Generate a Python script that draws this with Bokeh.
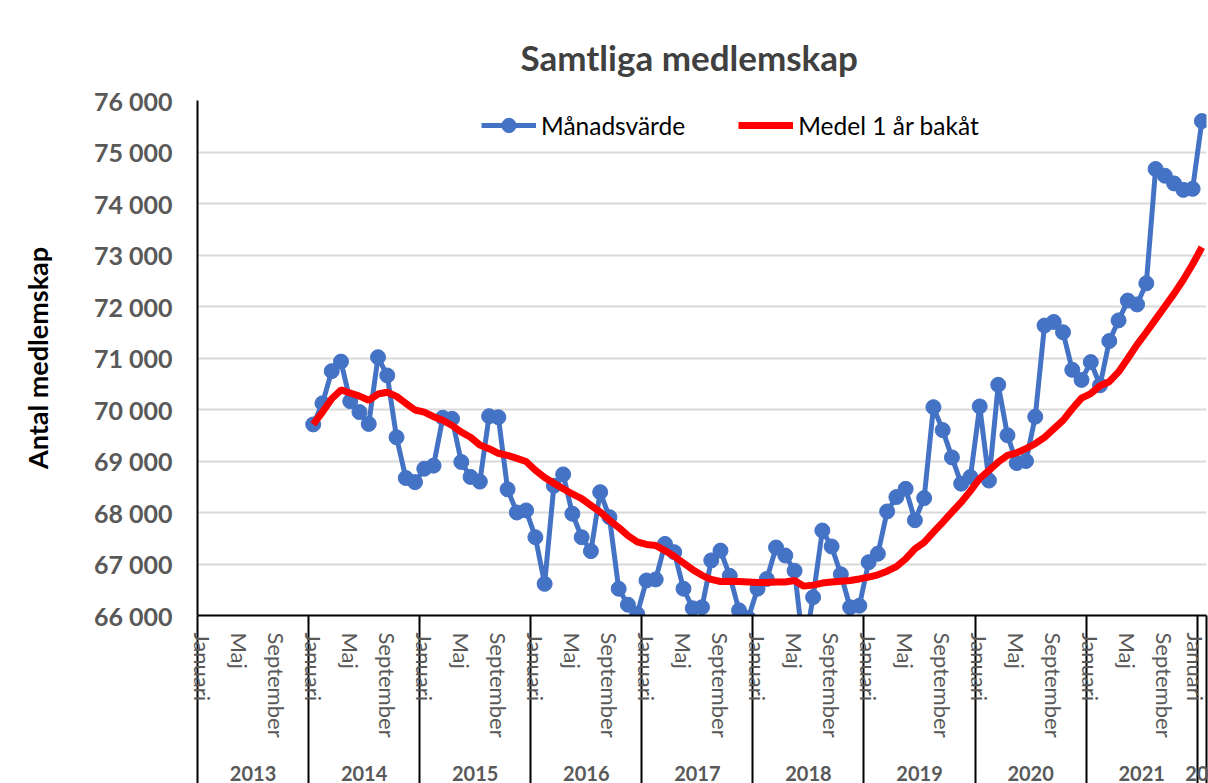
from bokeh.plotting import figure
from bokeh.models import (Range1d, FixedTicker, LinearAxis, Legend, LegendItem,
                          Title, ColumnDataSource)
from bokeh.embed import file_html
from bokeh.resources import INLINE

# ---------------- data ----------------
month_names = ["Januari", "Februari", "Mars", "April", "Maj", "Juni", "Juli",
               "Augusti", "September", "Oktober", "November", "December"]
years = ["2013", "2014", "2015", "2016", "2017", "2018", "2019", "2020", "2021", "2022"]
# year texts as they appear under the axis (the last one is cut at the chart edge)
year_labels = ["2013", "2014", "2015", "2016", "2017", "2018", "2019", "2020", "2021", "20"]
# category axis: Januari 2013 .. Januari 2022
categories = [(y, m) for y in years[:-1] for m in month_names] + [("2022", "Januari")]
data_start = ("2014", "Januari")

monthly = [
    # 2014
    69710, 70120, 70745, 70930, 70160, 69950, 69720, 71015, 70660, 69460, 68670, 68590,
    # 2015
    68850, 68910, 69840, 69820, 68980, 68690, 68600, 69870, 69850, 68450, 68000, 68040,
    # 2016
    67520, 66615, 68520, 68740, 67975, 67520, 67250, 68395, 67910, 66520, 66210, 66030,
    # 2017
    66680, 66700, 67390, 67230, 66520, 66140, 66160, 67070, 67260, 66770, 66100, 65950,
    # 2018
    66520, 66710, 67320, 67165, 66870, 65300, 66355, 67650, 67340, 66800, 66160, 66190,
    # 2019
    67035, 67200, 68020, 68300, 68460, 67850, 68280, 70045, 69600, 69070, 68560, 68690,
    # 2020
    70060, 68620, 70480, 69500, 68960, 69000, 69860, 71630, 71700, 71500, 70770, 70575,
    # 2021
    70920, 70470, 71330, 71730, 72115, 72040, 72450, 74670, 74540, 74390, 74265, 74285,
    # 2022
    75600,
]

moving_avg = [
    # 2014
    69710, 69950, 70210, 70380, 70320, 70260, 70180, 70300, 70335, 70255, 70120, 69990,
    # 2015
    69950, 69860, 69790, 69690, 69560, 69460, 69310, 69240, 69150, 69110, 69050, 68990,
    # 2016
    68820, 68680, 68570, 68460, 68360, 68270, 68140, 68010, 67850, 67710, 67550, 67430,
    # 2017
    67380, 67360, 67260, 67150, 67020, 66890, 66780, 66700, 66660, 66665, 66660, 66650,
    # 2018
    66640, 66640, 66650, 66650, 66680, 66570, 66590, 66630, 66650, 66665, 66680, 66710,
    # 2019
    66745, 66790, 66860, 66950, 67100, 67295, 67420, 67620, 67810, 68005, 68200, 68420,
    # 2020
    68660, 68820, 68980, 69110, 69160, 69240, 69335, 69460, 69625, 69790, 70015, 70220,
    # 2021
    70310, 70460, 70540, 70730, 70990, 71260, 71500, 71750, 72000, 72250, 72520, 72820,
    # 2022
    73150,
]

y_ticks = [66000, 67000, 68000, 69000, 70000, 71000, 72000, 73000, 74000, 75000, 76000]
y_tick_labels = ["66 000", "67 000", "68 000", "69 000", "70 000", "71 000",
                 "72 000", "73 000", "74 000", "75 000", "76 000"]
shown_months = ["Januari", "Maj", "September"]

# ---------------- derived positions ----------------
start = categories.index(data_start)
xs = [start + i + 0.5 for i in range(len(monthly))]
src = ColumnDataSource(dict(x=xs, monthly=monthly, avg=moving_avg))

month_ticks, month_over = [], {}
for i, (yy, mm) in enumerate(categories):
    if mm in shown_months:
        month_ticks.append(i + 0.5)
        month_over[i + 0.5] = mm

year_ticks, year_over, bounds = [], {}, []
for yy, lab in zip(years, year_labels):
    idx = [i for i, c in enumerate(categories) if c[0] == yy]
    c = (idx[0] + idx[-1] + 1) / 2
    year_ticks.append(c)
    year_over[c] = lab
    bounds.append(idx[0])
bounds.append(len(categories))

FONT = "Lato"
GRAY = "#595959"
BLUE = "#4472C4"
SEP_LEN = 168
YEAR_BOX = 18       # measured height of a year label box
YEAR_STANDOFF = -YEAR_BOX
MONTH_TOP = 17      # gap between axis line and month labels

p = figure(width=1208, height=783, output_backend="svg", toolbar_location=None,
           x_range=Range1d(0, len(categories)), y_range=Range1d(y_ticks[0], y_ticks[-1]),
           x_axis_location=None,
           min_border_left=197, min_border_right=2, min_border_top=100,
           min_border_bottom=SEP_LEN)
p.outline_line_color = None
p.background_fill_color = "white"
p.border_fill_color = "white"

p.title = Title(text="Samtliga medlemskap", align="left", offset=323, text_font=FONT,
                text_font_size="35px", text_font_style="bold", text_color="#404040",
                standoff=46)

# y axis
ya = p.yaxis[0]
ya.ticker = FixedTicker(ticks=y_ticks)
ya.major_label_overrides = dict(zip(y_ticks, y_tick_labels))
ya.major_label_text_font = FONT
ya.major_label_text_font_size = "25px"
ya.major_label_text_font_style = "bold"
ya.major_label_text_color = GRAY
ya.major_label_standoff = 19
ya.major_tick_line_color = None
ya.minor_tick_line_color = None
ya.axis_line_color = "black"
ya.axis_line_width = 2
ya.axis_label = "Antal medlemskap"
ya.axis_label_text_font = FONT
ya.axis_label_text_font_size = "27px"
ya.axis_label_text_font_style = "bold"
ya.axis_label_text_color = "black"
ya.axis_label_standoff = 37

p.ygrid.ticker = FixedTicker(ticks=y_ticks)
p.ygrid.grid_line_color = "#d9d9d9"
p.ygrid.grid_line_width = 2
p.xgrid.visible = False

# year axis first: its long minor ticks are the year separators
yr = LinearAxis(ticker=FixedTicker(ticks=year_ticks, minor_ticks=bounds),
                major_label_overrides=year_over,
                major_tick_line_color=None, major_tick_out=0, major_tick_in=0,
                minor_tick_out=SEP_LEN, minor_tick_in=0, minor_tick_line_width=2,
                minor_tick_line_color="black",
                axis_line_color="black", axis_line_width=2,
                major_label_text_font=FONT, major_label_text_font_size="20px",
                major_label_text_font_style="bold",
                major_label_text_color=GRAY, major_label_standoff=YEAR_STANDOFF)
p.add_layout(yr, "below")

# month axis pulled back up under the axis line
ma = LinearAxis(ticker=FixedTicker(ticks=month_ticks),
                major_label_overrides=month_over,
                major_label_orientation="vertical",
                major_tick_line_color=None, major_tick_out=0, major_tick_in=0,
                minor_tick_line_color=None, minor_tick_out=0, minor_tick_in=0,
                axis_line_color=None,
                major_label_text_font=FONT, major_label_text_font_size="22px",
                major_label_text_color=GRAY,
                major_label_standoff=MONTH_TOP - (SEP_LEN + YEAR_STANDOFF + YEAR_BOX))
p.add_layout(ma, "below")

bl = p.line("x", "monthly", source=src, line_color=BLUE, line_width=5)
bs = p.scatter("x", "monthly", source=src, size=15, fill_color=BLUE, line_color=BLUE)
rl = p.line("x", "avg", source=src, line_color="#FF0000", line_width=7)

legend = Legend(items=[LegendItem(label="Månadsvärde", renderers=[bl, bs]),
                       LegendItem(label="Medel 1 år bakåt", renderers=[rl])],
                orientation="horizontal", location=(284, 472),
                glyph_width=55, glyph_height=36, label_standoff=5, spacing=53,
                label_text_font=FONT, label_text_font_size="24.5px",
                label_text_color="black", border_line_color=None,
                background_fill_alpha=0, padding=0, margin=0)
p.add_layout(legend)

open("out.html", "w").write(file_html(p, INLINE))
